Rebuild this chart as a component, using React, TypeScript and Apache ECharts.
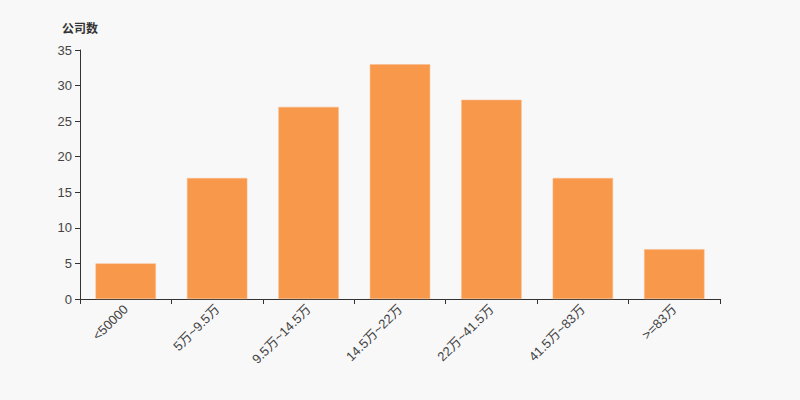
import React, { useEffect, useRef } from "react";
import * as echarts from "echarts";

const categories = ["<50000", "5万~9.5万", "9.5万~14.5万", "14.5万~22万", "22万~41.5万", "41.5万~83万", ">=83万"];
const counts = [5, 17, 27, 33, 28, 17, 7];
const yAxisName = "公司数";

export default function App() {
  const ref = useRef<HTMLDivElement>(null);
  useEffect(() => {
    const chart = echarts.init(ref.current!, null, { renderer: "svg" });
    chart.setOption({
      animation: false,
      backgroundColor: "#f8f8f8",
      textStyle: { fontFamily: "Arial, 'Liberation Sans', 'Noto Sans CJK SC', sans-serif" },
      grid: { left: 80, right: 80, top: 50, bottom: 101 },
      xAxis: {
        type: "category",
        data: categories,
        axisLine: { lineStyle: { color: "#333" } },
        axisTick: { show: true, alignWithLabel: false, lineStyle: { color: "#333" } },
        axisLabel: { rotate: 45, color: "#444", fontSize: 13, interval: 0, margin: 8 },
      },
      yAxis: {
        type: "value",
        name: yAxisName,
        nameGap: 15,
        nameTextStyle: { color: "#333", fontWeight: "bold", fontSize: 12, align: "center" },
        min: 0,
        max: 35,
        interval: 5,
        axisLine: { show: true, lineStyle: { color: "#333" } },
        axisTick: { show: true, lineStyle: { color: "#333" } },
        axisLabel: { color: "#444", fontSize: 13 },
        splitLine: { show: false },
      },
      series: [
        {
          type: "bar",
          data: counts,
          barWidth: "66%",
          itemStyle: { color: "#f8984a", borderColor: "#fbb98a", borderWidth: 0.5 },
        },
      ],
    });
    return () => chart.dispose();
  }, []);
  return <div ref={ref} style={{ width: 800, height: 400, position: "absolute", left: 0, top: 0 }} />;
}
